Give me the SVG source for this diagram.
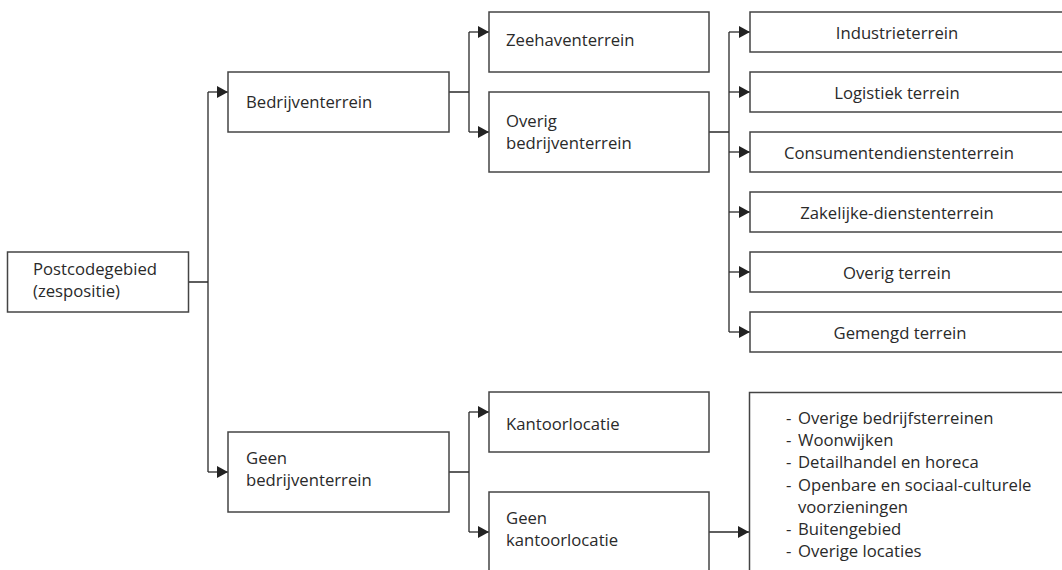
<svg xmlns="http://www.w3.org/2000/svg" width="1062" height="570" viewBox="0 0 1062 570">
<defs>
<marker id="arr" markerUnits="userSpaceOnUse" markerWidth="12" markerHeight="12" refX="11" refY="6" orient="auto">
<path d="M0,0 L11,6 L0,12 Z" fill="#222"/>
</marker>
<style>
.box{fill:#fff;stroke:#444;stroke-width:1.5}
.t{font-family:"Open Sans","Noto Sans",sans-serif;font-size:16.7px;fill:#2a2a2a}
.c{text-anchor:middle}
.ln{fill:none;stroke:#2a2a2a;stroke-width:1.3}
.ar{marker-end:url(#arr)}
</style>
</defs>
<rect width="1062" height="570" fill="#fff"/>
<g id="connectors">
<path class="ln" d="M188,282 H208 M208,92 V472 M449,92 H469 M469,32 V132 M709,132 H729 M729,32 V332 M449,472 H469 M469,412 V532"/>
<path class="ln ar" d="M208,92 H228"/>
<path class="ln ar" d="M208,472 H228"/>
<path class="ln ar" d="M469,32 H489"/>
<path class="ln ar" d="M469,132 H489"/>
<path class="ln ar" d="M729,32 H750"/>
<path class="ln ar" d="M729,92 H750"/>
<path class="ln ar" d="M729,152 H750"/>
<path class="ln ar" d="M729,212 H750"/>
<path class="ln ar" d="M729,272 H750"/>
<path class="ln ar" d="M729,332 H750"/>
<path class="ln ar" d="M469,412 H489"/>
<path class="ln ar" d="M469,532 H489"/>
<path class="ln ar" d="M709,532 H749"/>
</g>
<g id="postcodegebied">
<rect class="box" x="7.5" y="252" width="181" height="60"/>
<text class="t" x="33" y="275">Postcodegebied</text>
<text class="t" x="33" y="296.5">(zespositie)</text>
</g>
<g id="bedrijventerrein">
<rect class="box" x="228" y="72" width="221" height="60"/>
<text class="t" x="246" y="108">Bedrijventerrein</text>
</g>
<g id="geen-bedrijventerrein">
<rect class="box" x="228" y="432" width="221" height="80"/>
<text class="t" x="246" y="463.5">Geen</text>
<text class="t" x="246" y="485.5">bedrijventerrein</text>
</g>
<g id="zeehaventerrein">
<rect class="box" x="489" y="12" width="220" height="60"/>
<text class="t" x="506" y="46">Zeehaventerrein</text>
</g>
<g id="overig-bedrijventerrein">
<rect class="box" x="489" y="92" width="220" height="80"/>
<text class="t" x="506" y="127">Overig</text>
<text class="t" x="506" y="148.5">bedrijventerrein</text>
</g>
<g id="kantoorlocatie">
<rect class="box" x="489" y="392" width="220" height="60"/>
<text class="t" x="506" y="429.5">Kantoorlocatie</text>
</g>
<g id="geen-kantoorlocatie">
<rect class="box" x="489" y="492" width="220" height="90"/>
<text class="t" x="506" y="523.5">Geen</text>
<text class="t" x="506" y="545.5">kantoorlocatie</text>
</g>
<g id="industrieterrein">
<rect class="box" x="750" y="12" width="330" height="40"/>
<text class="t c" x="897" y="39">Industrieterrein</text>
</g>
<g id="logistiek-terrein">
<rect class="box" x="750" y="72" width="330" height="40"/>
<text class="t c" x="897" y="99">Logistiek terrein</text>
</g>
<g id="consumentendienstenterrein">
<rect class="box" x="750" y="132" width="330" height="40"/>
<text class="t c" x="899" y="159">Consumentendienstenterrein</text>
</g>
<g id="zakelijke-dienstenterrein">
<rect class="box" x="750" y="192" width="330" height="40"/>
<text class="t c" x="897" y="219">Zakelijke-dienstenterrein</text>
</g>
<g id="overig-terrein">
<rect class="box" x="750" y="252" width="330" height="40"/>
<text class="t c" x="897" y="279">Overig terrein</text>
</g>
<g id="gemengd-terrein">
<rect class="box" x="750" y="312" width="330" height="40"/>
<text class="t c" x="900" y="339">Gemengd terrein</text>
</g>
<g id="overige-locaties">
<rect class="box" x="749.5" y="392.5" width="330" height="200"/>
<text class="t" x="786" y="424">-</text>
<text class="t" x="798" y="424">Overige bedrijfsterreinen</text>
<text class="t" x="786" y="446.2">-</text>
<text class="t" x="798" y="446.2">Woonwijken</text>
<text class="t" x="786" y="468.4">-</text>
<text class="t" x="798" y="468.4">Detailhandel en horeca</text>
<text class="t" x="786" y="490.6">-</text>
<text class="t" x="798" y="490.6">Openbare en sociaal-culturele</text>
<text class="t" x="798" y="512.8">voorzieningen</text>
<text class="t" x="786" y="535">-</text>
<text class="t" x="798" y="535">Buitengebied</text>
<text class="t" x="786" y="557.2">-</text>
<text class="t" x="798" y="557.2">Overige locaties</text>
</g>
</svg>
